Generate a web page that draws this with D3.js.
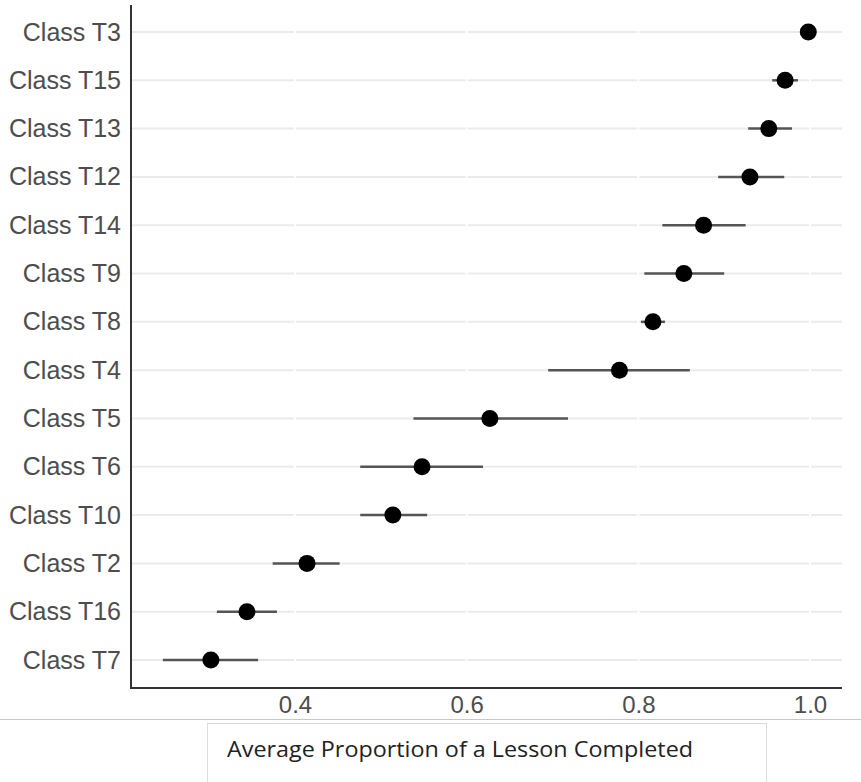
<!DOCTYPE html>
<html>
<head>
<meta charset="utf-8">
<script src="https://cdn.jsdelivr.net/npm/d3@7"></script>
<style>
  body { margin: 0; background: #fff; }
  svg { display: block; }
</style>
</head>
<body>
<svg id="chart"></svg>
<script>
(function () {
  'use strict';

  // top to bottom
  const classes = ['Class T3', 'Class T15', 'Class T13', 'Class T12', 'Class T14', 'Class T9', 'Class T8',
    'Class T4', 'Class T5', 'Class T6', 'Class T10', 'Class T2', 'Class T16', 'Class T7'];
  const means = [0.998, 0.971, 0.952, 0.930, 0.876, 0.853, 0.817, 0.778, 0.627, 0.548, 0.514, 0.414, 0.344, 0.302];
  const lower = [0.998, 0.956, 0.928, 0.893, 0.828, 0.807, 0.803, 0.695, 0.538, 0.476, 0.476, 0.374, 0.309, 0.246];
  const upper = [0.998, 0.986, 0.979, 0.970, 0.925, 0.900, 0.831, 0.860, 0.718, 0.619, 0.554, 0.452, 0.379, 0.357];
  const xTicks = [0.4, 0.6, 0.8, 1.0];
  const xLabel = 'Average Proportion of a Lesson Completed';

  const width = 861;
  const height = 782;
  const plot = { left: 131, right: 842, top: 5, bottom: 688 };

  const svg = d3.select('#chart')
    .attr('width', width)
    .attr('height', height);

  const x = d3.scaleLinear()
    .domain([0.4, 1.0])
    .range([295, 810]);

  const y = d3.scalePoint()
    .domain(classes)
    .range([32, 660]);

  const rows = classes.map((c, i) => ({ name: c, mean: means[i], lo: lower[i], hi: upper[i] }));

  // horizontal gridlines
  svg.append('g')
    .selectAll('line')
    .data(classes)
    .enter()
    .append('line')
      .attr('x1', plot.left)
      .attr('x2', plot.right)
      .attr('y1', d => y(d))
      .attr('y2', d => y(d))
      .attr('stroke', '#ebebeb')
      .attr('stroke-width', 2);

  // tiny breaks in the gridlines at each tick
  svg.append('g')
    .selectAll('line')
    .data(xTicks)
    .enter()
    .append('line')
      .attr('x1', d => x(d))
      .attr('x2', d => x(d))
      .attr('y1', plot.top)
      .attr('y2', plot.bottom - 2)
      .attr('stroke', '#fff')
      .attr('stroke-width', 2);

  // error bars
  svg.append('g')
    .selectAll('line')
    .data(rows)
    .enter()
    .append('line')
      .attr('x1', d => x(d.lo))
      .attr('x2', d => x(d.hi))
      .attr('y1', d => y(d.name))
      .attr('y2', d => y(d.name))
      .attr('stroke', '#555')
      .attr('stroke-width', 2.5);

  // points
  svg.append('g')
    .selectAll('circle')
    .data(rows)
    .enter()
    .append('circle')
      .attr('cx', d => x(d.mean))
      .attr('cy', d => y(d.name))
      .attr('r', 8.5)
      .attr('fill', '#000');

  // y axis
  const yAxis = svg.append('g')
    .attr('transform', `translate(${plot.left},0)`)
    .call(d3.axisLeft(y).tickSize(0).tickPadding(10));
  yAxis.select('.domain').remove();
  yAxis.selectAll('text')
    .attr('font-family', 'Liberation Sans, Arial, sans-serif')
    .attr('font-size', 25)
    .attr('fill', '#4d4d4d');

  svg.append('line')
    .attr('x1', plot.left)
    .attr('x2', plot.left)
    .attr('y1', plot.top)
    .attr('y2', plot.bottom)
    .attr('stroke', '#333')
    .attr('stroke-width', 2);

  // x axis
  const xAxis = svg.append('g')
    .attr('transform', `translate(0,${plot.bottom})`)
    .call(d3.axisBottom(x).tickValues(xTicks).tickFormat(d3.format('.1f')).tickSize(0).tickPadding(8));
  xAxis.select('.domain').remove();
  xAxis.selectAll('text')
    .attr('font-family', 'Liberation Sans, Arial, sans-serif')
    .attr('font-size', 24)
    .attr('fill', '#4d4d4d');

  svg.append('line')
    .attr('x1', plot.left - 1)
    .attr('x2', plot.right)
    .attr('y1', plot.bottom)
    .attr('y2', plot.bottom)
    .attr('stroke', '#333')
    .attr('stroke-width', 2);

  // separator line and label box below the chart
  svg.append('line')
    .attr('x1', 0)
    .attr('x2', width)
    .attr('y1', 719.5)
    .attr('y2', 719.5)
    .attr('stroke', '#c8c8c8')
    .attr('stroke-width', 1);

  svg.append('rect')
    .attr('x', 207.5)
    .attr('y', 723.5)
    .attr('width', 559)
    .attr('height', 62)
    .attr('fill', '#fff')
    .attr('stroke', '#dcdcdc')
    .attr('stroke-width', 1);

  svg.append('text')
    .attr('x', 227)
    .attr('y', 757)
    .attr('font-family', 'Open Sans, sans-serif')
    .attr('font-size', 22)
    .attr('fill', '#222')
    .attr('textLength', 466)
    .attr('lengthAdjust', 'spacingAndGlyphs')
    .text(xLabel);
}());
</script>
</body>
</html>
